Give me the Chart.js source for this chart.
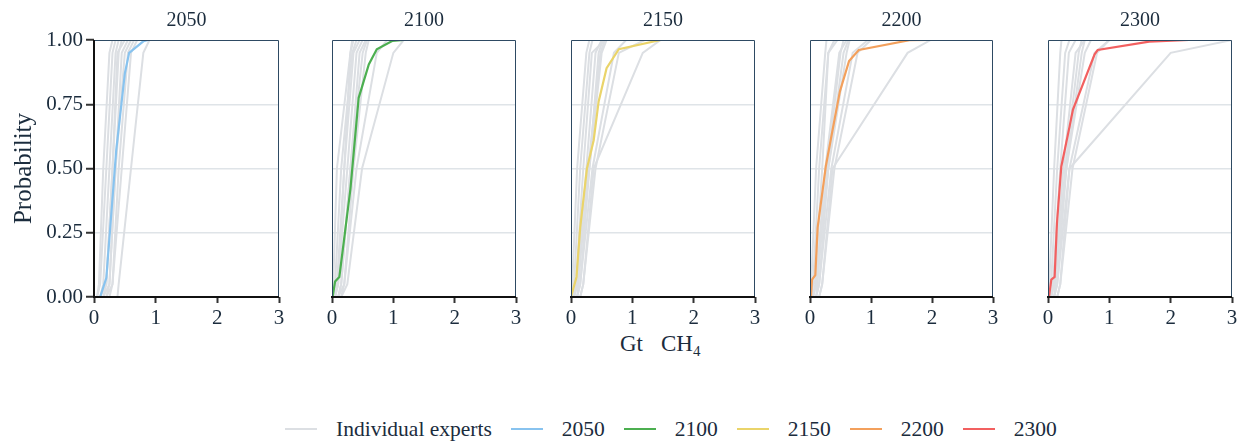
<!DOCTYPE html>
<html>
<head>
<meta charset="utf-8">
<script src="https://cdn.jsdelivr.net/npm/chart.js@4.4.0/dist/chart.umd.min.js"></script>
<style>
  body { margin: 0; background: #fff; width: 1245px; height: 442px; position: relative; overflow: hidden;
         font-family: "Liberation Serif", "DejaVu Serif", serif; color: #1b2c3d; }
  .panel { position: absolute; top: 0; height: 340px; }
  #xtitle { position: absolute; top: 331px; left: 620px; font-size: 23px; line-height: 26px; white-space: nowrap; }
  #xtitle .gap { display: inline-block; width: 18px; }
  #xtitle sub { font-size: 15px; vertical-align: -5px; }
  #legend { position: absolute; top: 416px; left: 285px; height: 26px; display: flex; align-items: center;
            font-size: 21.5px; white-space: nowrap; }
  #legend .sw { display: inline-block; width: 32px; height: 2px; margin-right: 19px; }
  #legend .lab { margin-right: 19px; }
</style>
</head>
<body>
<div id="xtitle">Gt<span class="gap"></span>CH<sub>4</sub></div>
<div id="legend"></div>

<script>
// --- Data ---
const years   = ['2050', '2100', '2150', '2200', '2300'];
const colours = ['#88c3ef', '#4caf50', '#ead46a', '#f3a05c', '#f26060'];
const greyCol = '#dcdfe3';

// expert quantiles are given at these probabilities
const probs = [0, 0.05, 0.5, 0.95, 1];

const experts2050 = [
  [0.05, 0.08, 0.15, 0.25, 0.30],
  [0.05, 0.10, 0.20, 0.30, 0.35],
  [0.10, 0.15, 0.25, 0.35, 0.40],
  [0.10, 0.20, 0.30, 0.40, 0.45],
  [0.15, 0.20, 0.30, 0.38, 0.50],
  [0.15, 0.25, 0.35, 0.45, 0.55],
  [0.20, 0.25, 0.35, 0.50, 0.60],
  [0.20, 0.30, 0.40, 0.55, 0.65],
  [0.25, 0.30, 0.45, 0.60, 0.70],
  [0.38, 0.40, 0.60, 0.80, 0.90]
];
const experts2100 = [
  [0.00, 0.02, 0.08, 0.30, 0.35],
  [0.02, 0.05, 0.15, 0.33, 0.40],
  [0.05, 0.08, 0.20, 0.30, 0.33],
  [0.05, 0.10, 0.20, 0.35, 0.45],
  [0.05, 0.10, 0.25, 0.40, 0.50],
  [0.10, 0.15, 0.30, 0.45, 0.55],
  [0.10, 0.15, 0.30, 0.50, 0.57],
  [0.15, 0.20, 0.35, 0.55, 0.60],
  [0.10, 0.20, 0.40, 0.73, 0.90],
  [0.15, 0.25, 0.49, 1.00, 1.17]
];
const experts2150 = [
  [0.00, 0.02, 0.10, 0.25, 0.30],
  [0.02, 0.05, 0.15, 0.30, 0.35],
  [0.05, 0.08, 0.20, 0.34, 0.55],
  [0.05, 0.10, 0.25, 0.40, 0.50],
  [0.05, 0.10, 0.30, 0.45, 0.52],
  [0.10, 0.12, 0.28, 0.48, 0.55],
  [0.10, 0.15, 0.30, 0.50, 0.58],
  [0.10, 0.15, 0.35, 0.70, 0.90],
  [0.15, 0.20, 0.40, 0.78, 1.20],
  [0.15, 0.20, 0.37, 1.17, 1.46]
];
const experts2200 = [
  [0.00, 0.02, 0.10, 0.25, 0.27],
  [0.02, 0.05, 0.15, 0.30, 0.40],
  [0.05, 0.08, 0.20, 0.30, 0.45],
  [0.05, 0.10, 0.25, 0.48, 0.60],
  [0.05, 0.10, 0.30, 0.55, 0.63],
  [0.10, 0.12, 0.28, 0.50, 0.55],
  [0.10, 0.15, 0.30, 0.60, 0.65],
  [0.10, 0.15, 0.35, 0.70, 0.95],
  [0.15, 0.20, 0.40, 0.78, 1.00],
  [0.15, 0.20, 0.37, 1.60, 1.98]
];
const experts2300 = [
  [0.00, 0.02, 0.10, 0.20, 0.22],
  [0.02, 0.05, 0.15, 0.28, 0.35],
  [0.05, 0.08, 0.20, 0.34, 0.45],
  [0.05, 0.10, 0.25, 0.45, 0.60],
  [0.05, 0.10, 0.30, 0.55, 0.60],
  [0.10, 0.12, 0.28, 0.50, 0.55],
  [0.10, 0.15, 0.30, 0.60, 0.70],
  [0.10, 0.15, 0.35, 0.76, 1.00],
  [0.15, 0.20, 0.40, 0.80, 1.00],
  [0.15, 0.20, 0.35, 2.00, 3.00]
];

// aggregated distributions (x in Gt CH4, y = probability)
const agg2050X = [0.10, 0.20, 0.36, 0.50, 0.57, 0.80, 0.88];
const agg2050Y = [0.00, 0.075, 0.57, 0.87, 0.95, 0.995, 1.00];
const agg2100X = [0.01, 0.05, 0.12, 0.30, 0.435, 0.60, 0.73, 0.98, 1.17];
const agg2100Y = [0.00, 0.06, 0.078, 0.42, 0.775, 0.905, 0.964, 0.996, 1.00];
const agg2150X = [0.00, 0.09, 0.15, 0.26, 0.37, 0.45, 0.58, 0.78, 1.46];
const agg2150Y = [0.00, 0.078, 0.27, 0.50, 0.61, 0.76, 0.89, 0.964, 1.00];
const agg2200X = [0.016, 0.033, 0.087, 0.125, 0.26, 0.37, 0.49, 0.64, 0.80, 1.63, 1.95];
const agg2200Y = [0.00, 0.068, 0.085, 0.27, 0.51, 0.65, 0.80, 0.918, 0.961, 0.999, 1.00];
const agg2300X = [0.016, 0.054, 0.108, 0.146, 0.217, 0.352, 0.407, 0.76, 0.81, 1.65, 2.30, 2.98];
const agg2300Y = [0.00, 0.068, 0.078, 0.287, 0.508, 0.664, 0.729, 0.944, 0.961, 0.994, 1.00, 1.00];

const expertSets = [experts2050, experts2100, experts2150, experts2200, experts2300];
const aggX = [agg2050X, agg2100X, agg2150X, agg2200X, agg2300X];
const aggY = [agg2050Y, agg2100Y, agg2150Y, agg2200Y, agg2300Y];

// --- Layout of the panels (pixel position of x = 0, width of plot area) ---
const panelLeft  = [94, 332, 571, 810, 1048];
const panelWidth = [185, 184, 184, 183, 184];
const L = 94, R = 12;
const textCol = '#1b2c3d';
const serif = '"Liberation Serif", "DejaVu Serif", serif';

// frame + panel title
const framePlugin = {
  id: 'frame',
  afterDraw(chart, args, opts) {
    const { ctx, chartArea: a } = chart;
    ctx.save();
    ctx.strokeStyle = '#2e4a63';
    ctx.lineWidth = 1;
    ctx.beginPath();
    ctx.moveTo(a.left + 0.5, a.bottom);
    ctx.lineTo(a.left + 0.5, a.top + 0.5);
    ctx.lineTo(a.right - 0.5, a.top + 0.5);
    ctx.lineTo(a.right - 0.5, a.bottom);
    ctx.stroke();
    ctx.strokeStyle = '#111';
    ctx.lineWidth = 2;
    if (opts.first) {
      ctx.beginPath();
      ctx.moveTo(a.left, a.bottom);
      ctx.lineTo(a.left, a.top);
      ctx.stroke();
    }
    ctx.beginPath();
    ctx.moveTo(a.left - 1, a.bottom);
    ctx.lineTo(a.right, a.bottom);
    ctx.stroke();
    ctx.fillStyle = textCol;
    ctx.font = '20px ' + serif;
    ctx.textAlign = 'center';
    ctx.textBaseline = 'middle';
    ctx.fillText(opts.title, (a.left + a.right) / 2, 21);
    ctx.restore();
  }
};

years.forEach((yr, i) => {
  const div = document.createElement('div');
  div.className = 'panel';
  div.style.left = (panelLeft[i] - L) + 'px';
  div.style.width = (L + panelWidth[i] + R) + 'px';
  const cv = document.createElement('canvas');
  div.appendChild(cv);
  document.body.appendChild(div);

  const first = i === 0;
  const datasets = [{
    data: aggX[i].map((x, k) => ({ x: x, y: aggY[i][k] })),
    borderColor: colours[i],
    borderWidth: 2.2,
    pointRadius: 0,
    showLine: true
  }];
  expertSets[i].forEach(q => {
    datasets.push({
      data: q.map((x, k) => ({ x: x, y: probs[k] })),
      borderColor: greyCol,
      borderWidth: 2,
      pointRadius: 0,
      showLine: true
    });
  });

  new Chart(cv, {
    type: 'scatter',
    data: { datasets },
    plugins: [framePlugin],
    options: {
      responsive: true,
      maintainAspectRatio: false,
      animation: false,
      events: [],
      layout: { padding: { top: 40, right: R, left: 0, bottom: 0 } },
      plugins: {
        legend: { display: false },
        tooltip: { enabled: false },
        frame: { title: yr, first: first }
      },
      scales: {
        x: {
          type: 'linear', min: 0, max: 3,
          afterFit: s => { s.height = 43; },
          border: { display: false },
          grid: { drawOnChartArea: false, drawTicks: true, tickLength: 6, tickColor: '#333', tickWidth: 2 },
          ticks: { stepSize: 1, color: textCol, font: { family: serif, size: 21 }, padding: 3 }
        },
        y: {
          min: 0, max: 1,
          afterFit: s => { s.width = L; },
          border: { display: false },
          grid: {
            color: c => (c.tick.value === 0 || c.tick.value === 1) ? 'rgba(0,0,0,0)' : '#dfe4e8',
            lineWidth: 1.5,
            drawTicks: first, tickLength: 8, tickColor: '#333', tickWidth: 2
          },
          ticks: {
            display: first, stepSize: 0.25, color: textCol,
            font: { family: serif, size: 21 }, padding: 3,
            callback: v => v.toFixed(2)
          },
          title: {
            display: first, text: 'Probability', color: textCol,
            font: { family: serif, size: 25 }, padding: { top: 9, bottom: 0 }
          }
        }
      }
    }
  });
});

// --- Legend ---
const legend = document.getElementById('legend');
const legendItems = [['Individual experts', greyCol]].concat(years.map((y, i) => [y, colours[i]]));
legendItems.forEach(([label, col]) => {
  const sw = document.createElement('span');
  sw.className = 'sw';
  sw.style.background = col;
  const lab = document.createElement('span');
  lab.className = 'lab';
  lab.textContent = label;
  legend.appendChild(sw);
  legend.appendChild(lab);
});
</script>
</body>
</html>
